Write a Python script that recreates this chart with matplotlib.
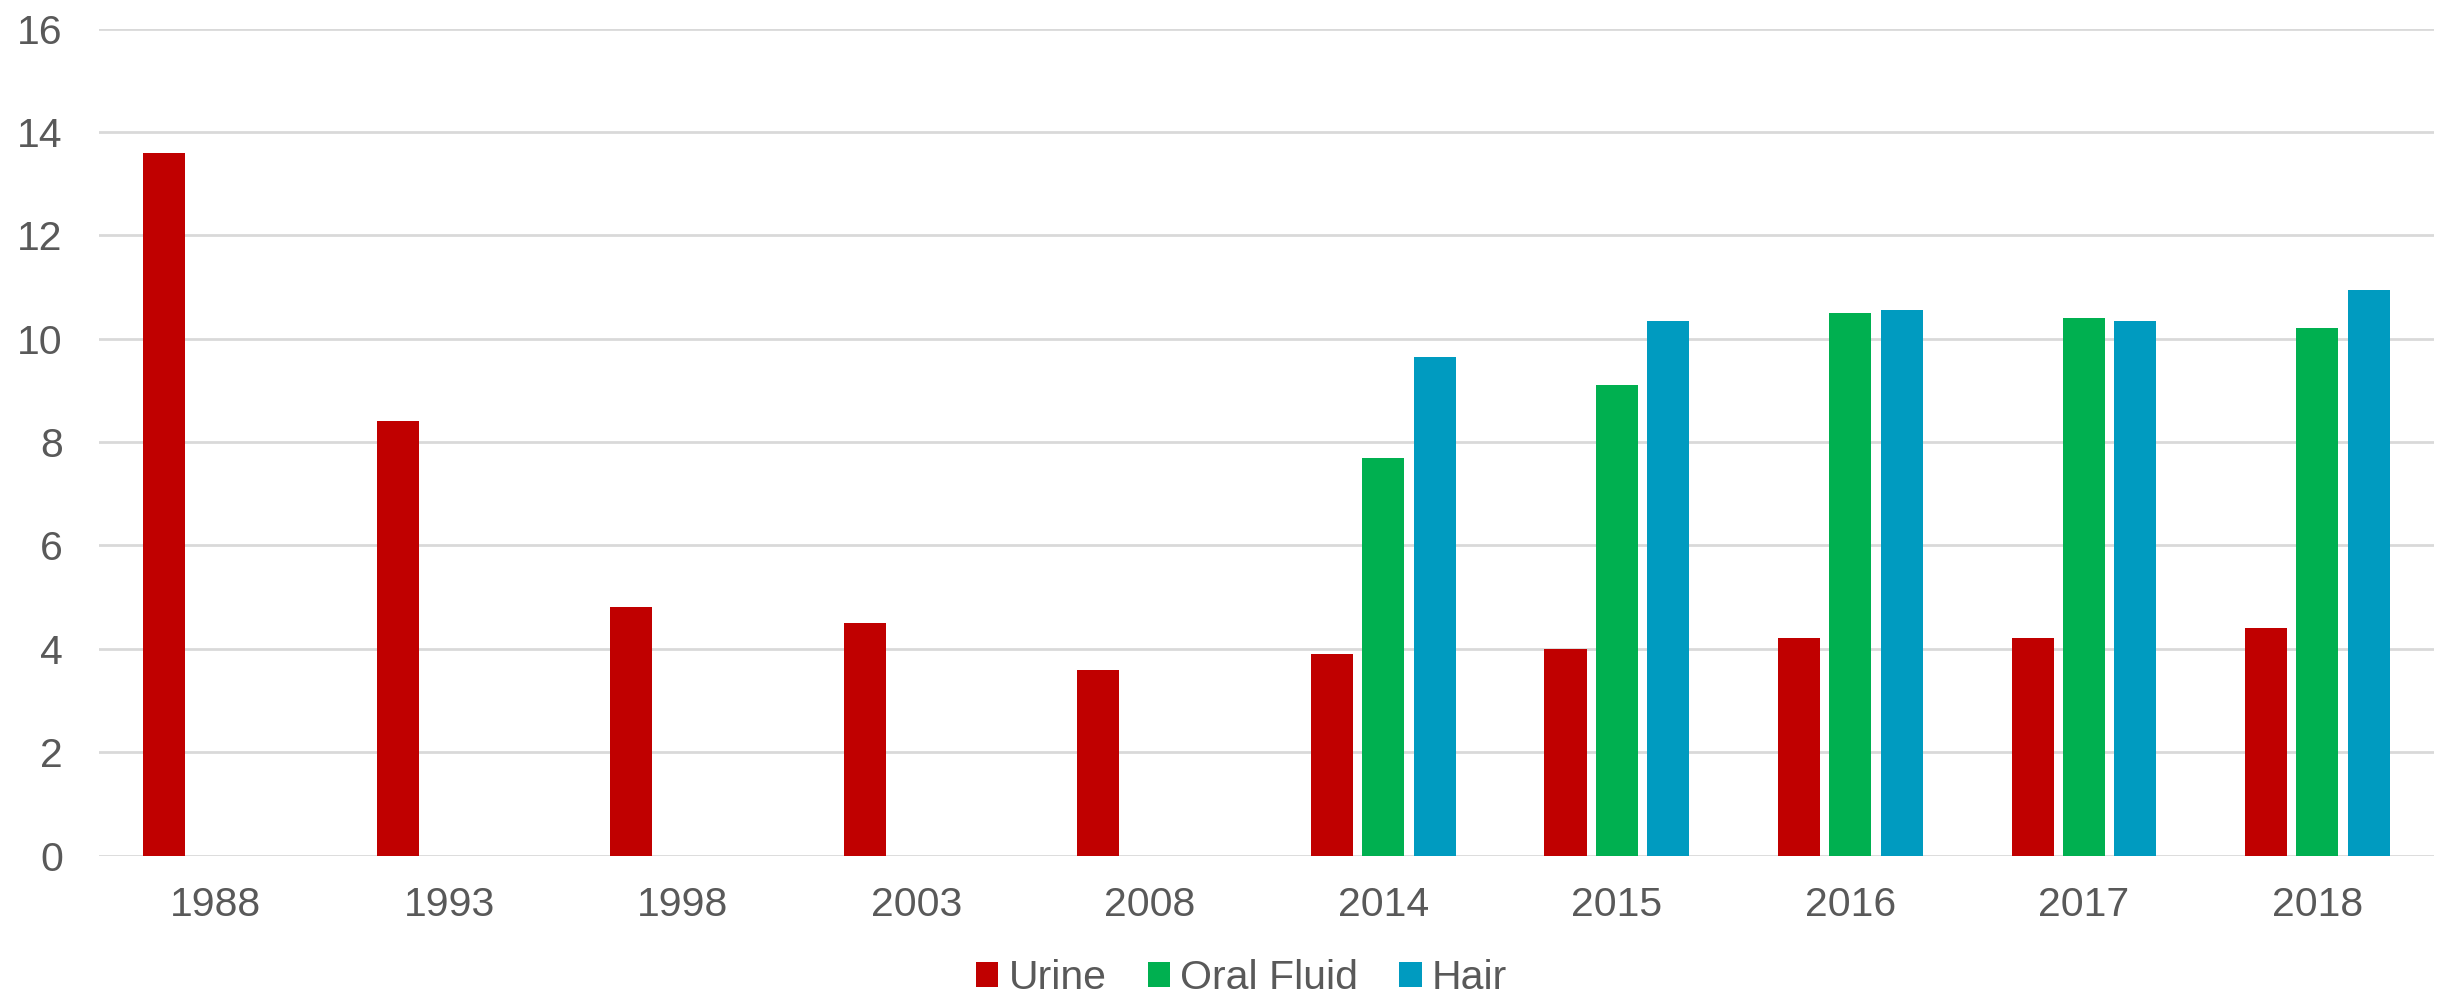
import numpy as np
import matplotlib.pyplot as plt

years = ['1988', '1993', '1998', '2003', '2008', '2014', '2015', '2016', '2017', '2018']
urine = [13.6, 8.4, 4.8, 4.5, 3.6, 3.9, 4.0, 4.2, 4.2, 4.4]
oral_fluid = [0, 0, 0, 0, 0, 7.7, 9.1, 10.5, 10.4, 10.2]
hair = [0, 0, 0, 0, 0, 9.65, 10.35, 10.55, 10.35, 10.95]

series_names = ['Urine', 'Oral Fluid', 'Hair']
colors = ['#C00000', '#00B050', '#009BC0']

plt.rcParams['font.family'] = ['Liberation Sans', 'DejaVu Sans']
text_color = '#595959'
grid_color = '#D9D9D9'

fig = plt.figure(figsize=(24.44, 9.94), dpi=100)
ax = fig.add_axes([0.0405, 0.1393, 0.9555, 0.8318])

X = np.arange(len(years))
offsets = [-0.22, 0.0, 0.22]
for vals, name, c, off in zip([urine, oral_fluid, hair], series_names, colors, offsets):
    ax.bar(X + off, vals, width=0.18, color=c, label=name, zorder=3)

ax.set_xlim(-0.5, len(years) - 0.5)
ax.set_ylim(0, 16)
ax.set_yticks(range(0, 17, 2))
ax.set_xticks(X)
ax.set_xticklabels(years)

# light horizontal grid, no frame
ax.grid(axis='y', color=grid_color, linewidth=2, zorder=0)
ax.set_axisbelow(True)
for s in ['top', 'right', 'left', 'bottom']:
    ax.spines[s].set_visible(False)
ax.tick_params(axis='both', length=0, labelsize=29.5, colors=text_color)
ax.tick_params(axis='x', pad=22)
ax.tick_params(axis='y', pad=26)

leg = fig.legend(loc='lower center', bbox_to_anchor=(0.508, -0.04), ncol=3, frameon=False,
                 fontsize=29.5, handlelength=0.55, handleheight=0.55, handletextpad=0.25,
                 columnspacing=1.0)
for t in leg.get_texts():
    t.set_color(text_color)

fig.savefig('out.png', dpi=100, facecolor='white')
